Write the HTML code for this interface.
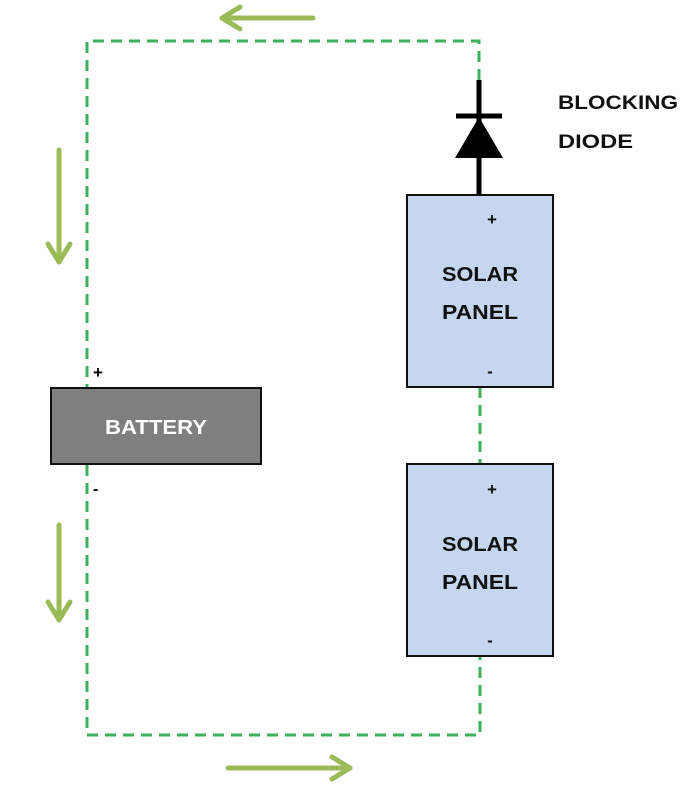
<!DOCTYPE html>
<html><head><meta charset="utf-8"><style>
html,body{margin:0;padding:0;background:#fff;}
svg{display:block;}
text{font-family:"Liberation Sans",sans-serif;font-weight:bold;}
</style></head><body>
<svg width="692" height="796" viewBox="0 0 692 796" xmlns="http://www.w3.org/2000/svg">
<g stroke="#3cb05a" stroke-width="3" fill="none" stroke-dasharray="11,7">
<polyline points="479,80 479,41 87,41 87,387"/>
<line x1="87" y1="465" x2="87" y2="735"/>
<polyline points="87,735 480,735 480,657"/>
<line x1="480" y1="387" x2="480" y2="463"/>
</g>
<g stroke="#9bbb59" stroke-width="5" fill="none" stroke-linecap="round" stroke-linejoin="round">
<line x1="313" y1="18" x2="222" y2="18"/><polyline points="240,7 222,18 240,29"/>
<line x1="59" y1="150" x2="59" y2="262"/><polyline points="48,244 59,262 70,244"/>
<line x1="59" y1="525" x2="59" y2="620"/><polyline points="48,602 59,620 70,602"/>
<line x1="228" y1="768" x2="350" y2="768"/><polyline points="332,757 350,768 332,779"/>
</g>
<line x1="479" y1="80" x2="479" y2="194" stroke="#000" stroke-width="5"/>
<line x1="456" y1="116" x2="502" y2="116" stroke="#000" stroke-width="5"/>
<polygon points="479,117 455,158 503,158" fill="#000"/>
<rect x="51" y="388" width="210" height="76" fill="#7f7f7f" stroke="#111" stroke-width="2"/>
<text x="105" y="434" fill="#fff" font-size="20" textLength="102" lengthAdjust="spacingAndGlyphs">BATTERY</text>
<text x="93" y="378" font-size="17">+</text>
<text x="93" y="494" font-size="16">-</text>
<rect x="407" y="195" width="146" height="192" fill="#c5d6ee" stroke="#111" stroke-width="2"/>
<rect x="407" y="464" width="146" height="192" fill="#c5d6ee" stroke="#111" stroke-width="2"/>
<g font-size="20" fill="#111">
<text x="442" y="281" textLength="76" lengthAdjust="spacingAndGlyphs">SOLAR</text><text x="442" y="319" textLength="76" lengthAdjust="spacingAndGlyphs">PANEL</text>
<text x="442" y="551" textLength="76" lengthAdjust="spacingAndGlyphs">SOLAR</text><text x="442" y="589" textLength="76" lengthAdjust="spacingAndGlyphs">PANEL</text>
</g>
<g font-size="17" text-anchor="middle" fill="#111">
<text x="492" y="225">+</text><text x="490" y="377">-</text>
<text x="492" y="495">+</text><text x="490" y="646">-</text>
</g>
<text x="558" y="109" font-size="19" fill="#111" textLength="120" lengthAdjust="spacingAndGlyphs">BLOCKING</text>
<text x="558" y="148" font-size="19" fill="#111" textLength="75" lengthAdjust="spacingAndGlyphs">DIODE</text>
</svg>
</body></html>
